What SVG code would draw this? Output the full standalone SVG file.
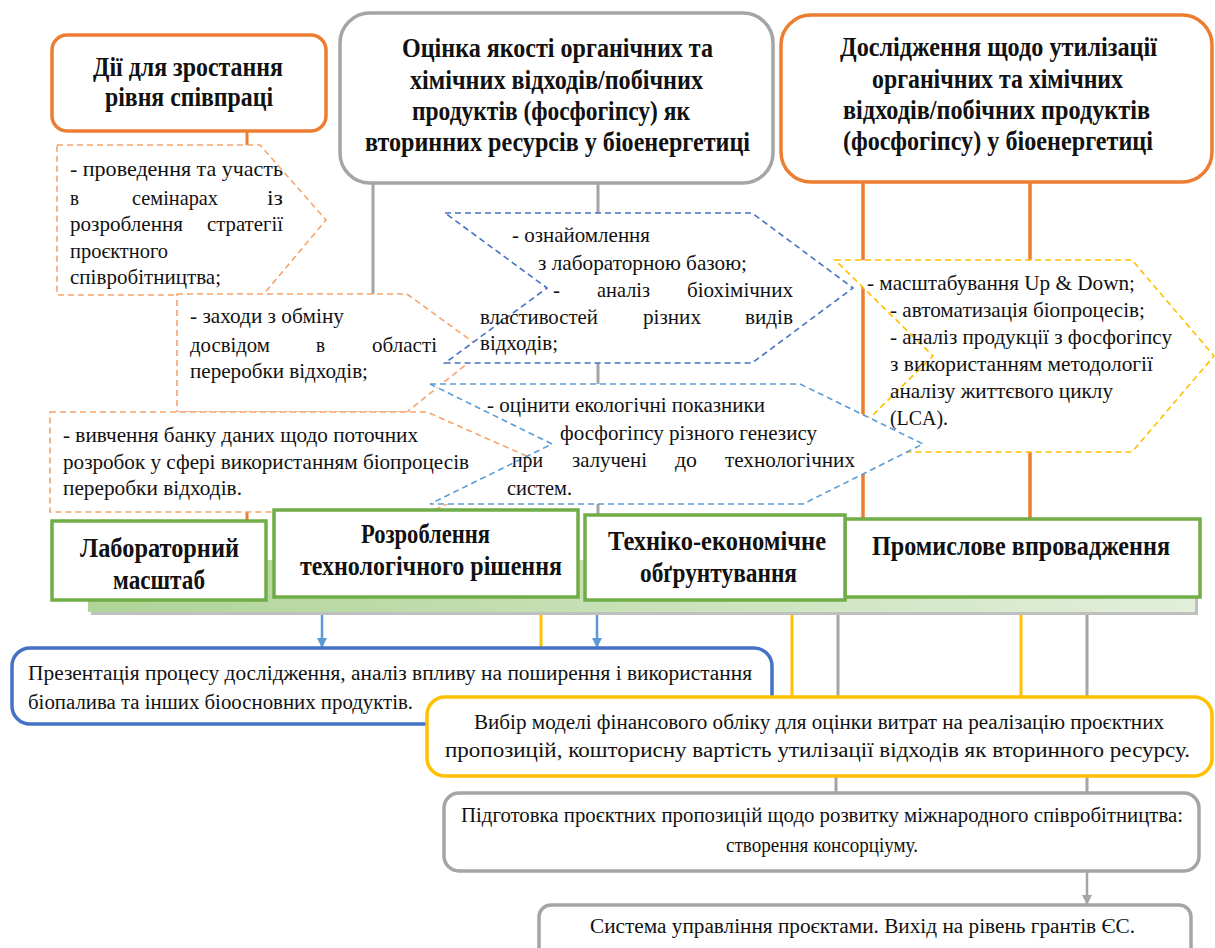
<svg xmlns="http://www.w3.org/2000/svg" width="1215" height="948" viewBox="0 0 1215 948" font-family="'Liberation Serif', 'Times New Roman', serif">
<defs>
<style>
.t{font-size:22px;fill:#111}
.s{font-size:20px;fill:#111}
.b{font-size:27px;font-weight:bold;fill:#111}
.dash{fill:#fff;stroke-width:1.6;stroke-dasharray:6 4}
.green{fill:#fff;stroke:#70AD47;stroke-width:3.5}
</style>
<linearGradient id="gbar" x1="0" y1="0" x2="1" y2="0">
<stop offset="0" stop-color="#AFD497"/>
<stop offset="1" stop-color="#E2EFDA"/>
</linearGradient>
<marker id="arrB" viewBox="0 0 10 10" refX="9" refY="5" markerWidth="4" markerHeight="4" orient="auto"><path d="M0,0 L10,5 L0,10 z" fill="#5B9BD5"/></marker>
<marker id="arrG" viewBox="0 0 10 10" refX="9" refY="5" markerWidth="4" markerHeight="4" orient="auto"><path d="M0,0 L10,5 L0,10 z" fill="#A5A5A5"/></marker>
</defs>

<g id="connectors" fill="none">
<line x1="247" y1="131" x2="247" y2="521" stroke="#ED7D31" stroke-width="3"/>
<line x1="373" y1="183" x2="373" y2="300" stroke="#A5A5A5" stroke-width="3"/>
<line x1="598" y1="183" x2="598" y2="515" stroke="#A5A5A5" stroke-width="3"/>
<line x1="863" y1="182" x2="863" y2="522" stroke="#ED7D31" stroke-width="3.5"/>
<line x1="1030" y1="182" x2="1030" y2="522" stroke="#ED7D31" stroke-width="3.5"/>
<line x1="322" y1="612" x2="322" y2="647" stroke="#5B9BD5" stroke-width="2.5" marker-end="url(#arrB)"/>
<line x1="541" y1="612" x2="541" y2="697" stroke="#FFC000" stroke-width="3"/>
<line x1="597" y1="612" x2="597" y2="647" stroke="#5B9BD5" stroke-width="2.5" marker-end="url(#arrB)"/>
<line x1="792" y1="600" x2="792" y2="697" stroke="#FFC000" stroke-width="3"/>
<line x1="838" y1="612" x2="838" y2="697" stroke="#A5A5A5" stroke-width="3"/>
<line x1="1021" y1="612" x2="1021" y2="697" stroke="#FFC000" stroke-width="3"/>
<line x1="1087" y1="615" x2="1087" y2="697" stroke="#A5A5A5" stroke-width="3"/>
<line x1="836" y1="776" x2="836" y2="793" stroke="#A5A5A5" stroke-width="3"/>
<line x1="1087" y1="776" x2="1087" y2="793" stroke="#A5A5A5" stroke-width="3"/>
<line x1="1087" y1="871" x2="1087" y2="904" stroke="#A5A5A5" stroke-width="2.5" marker-end="url(#arrG)"/>
</g>

<g id="n-coop">
<rect x="52" y="35" width="274" height="96" rx="15" fill="#fff" stroke="#ED7D31" stroke-width="3.5"/>
<text class="b" x="93" y="76" textLength="190" lengthAdjust="spacingAndGlyphs">Дії для зростання</text>
<text class="b" x="105" y="106" textLength="168" lengthAdjust="spacingAndGlyphs">рівня співпраці</text>
</g>

<g id="n-quality">
<rect x="340" y="13" width="433" height="170" rx="30" fill="#fff" stroke="#A5A5A5" stroke-width="3.5"/>
<text class="b" x="402" y="57" textLength="311" lengthAdjust="spacingAndGlyphs">Оцінка якості органічних та</text>
<text class="b" x="410" y="89" textLength="293" lengthAdjust="spacingAndGlyphs">хімічних відходів/побічних</text>
<text class="b" x="412" y="120" textLength="278" lengthAdjust="spacingAndGlyphs">продуктів (фосфогіпсу) як</text>
<text class="b" x="365" y="151" textLength="385" lengthAdjust="spacingAndGlyphs">вторинних ресурсів у біоенергетиці</text>
</g>

<g id="n-research">
<rect x="781" y="15" width="431" height="167" rx="30" fill="#fff" stroke="#ED7D31" stroke-width="3.5"/>
<text class="b" x="840" y="56" textLength="317" lengthAdjust="spacingAndGlyphs">Дослідження щодо утилізації</text>
<text class="b" x="872" y="88" textLength="251" lengthAdjust="spacingAndGlyphs">органічних та хімічних</text>
<text class="b" x="843" y="119" textLength="307" lengthAdjust="spacingAndGlyphs">відходів/побічних продуктів</text>
<text class="b" x="843" y="150" textLength="310" lengthAdjust="spacingAndGlyphs">(фосфогіпсу) у біоенергетиці</text>
</g>

<g id="n-a">
<path class="dash" stroke="#F4A46E" d="M57,145 L260,145 L326,220 L263,295 L57,295 Z"/>
<text class="t" x="70" y="176" textLength="213" lengthAdjust="spacingAndGlyphs">- проведення та участь</text>
<text class="t" x="70" y="205" textLength="9" lengthAdjust="spacingAndGlyphs">в</text>
<text class="t" x="132" y="205" textLength="86" lengthAdjust="spacingAndGlyphs">семінарах</text>
<text class="t" x="267" y="205" textLength="16" lengthAdjust="spacingAndGlyphs">із</text>
<text class="t" x="70" y="231" textLength="113" lengthAdjust="spacingAndGlyphs">розроблення</text>
<text class="t" x="207" y="231" textLength="76" lengthAdjust="spacingAndGlyphs">стратегії</text>
<text class="t" x="70" y="258" textLength="98" lengthAdjust="spacingAndGlyphs">проєктного</text>
<text class="t" x="70" y="284" textLength="151" lengthAdjust="spacingAndGlyphs">співробітництва;</text>
</g>

<g id="n-b">
<path class="dash" stroke="#F4A46E" d="M177,294 L407,294 L484,350 L407,412 L177,412 Z"/>
<text class="t" x="190" y="323" textLength="154" lengthAdjust="spacingAndGlyphs">- заходи з обміну</text>
<text class="t" x="190" y="352" textLength="80" lengthAdjust="spacingAndGlyphs">досвідом</text>
<text class="t" x="316" y="352" textLength="9" lengthAdjust="spacingAndGlyphs">в</text>
<text class="t" x="372" y="352" textLength="65" lengthAdjust="spacingAndGlyphs">області</text>
<text class="t" x="190" y="378" textLength="178" lengthAdjust="spacingAndGlyphs">переробки відходів;</text>
</g>

<g id="n-c">
<path class="dash" stroke="#F4A46E" d="M50,412 L427,412 L540,462 L430,512 L50,512 Z"/>
<text class="t" x="63" y="442" textLength="355" lengthAdjust="spacingAndGlyphs">- вивчення банку даних щодо поточних</text>
<text class="t" x="63" y="469" textLength="406" lengthAdjust="spacingAndGlyphs">розробок у сфері використанням біопроцесів</text>
<text class="t" x="63" y="495" textLength="179" lengthAdjust="spacingAndGlyphs">переробки відходів.</text>
</g>

<g id="n-d">
<path class="dash" stroke="#4472C4" d="M445,213 L752,213 L853,288 L752,363 L445,363 L547,288 Z"/>
<text class="t" x="512" y="242" textLength="138" lengthAdjust="spacingAndGlyphs">- ознайомлення</text>
<text class="t" x="538" y="270" textLength="209" lengthAdjust="spacingAndGlyphs">з лабораторною базою;</text>
<text class="t" x="553" y="297" textLength="7" lengthAdjust="spacingAndGlyphs">-</text>
<text class="t" x="597" y="297" textLength="53" lengthAdjust="spacingAndGlyphs">аналіз</text>
<text class="t" x="687" y="297" textLength="106" lengthAdjust="spacingAndGlyphs">біохімічних</text>
<text class="t" x="480" y="324" textLength="118" lengthAdjust="spacingAndGlyphs">властивостей</text>
<text class="t" x="643" y="324" textLength="58" lengthAdjust="spacingAndGlyphs">різних</text>
<text class="t" x="745" y="324" textLength="48" lengthAdjust="spacingAndGlyphs">видів</text>
<text class="t" x="480" y="350" textLength="78" lengthAdjust="spacingAndGlyphs">відходів;</text>
</g>

<g id="n-f">
<path class="dash" stroke="#FFC000" d="M835,260 L1132,260 L1214,356 L1132,452 L835,452 L933,356 Z"/>
<text class="t" x="867" y="290" textLength="268" lengthAdjust="spacingAndGlyphs">- масштабування Up &amp; Down;</text>
<text class="t" x="890" y="317" textLength="255" lengthAdjust="spacingAndGlyphs">- автоматизація біопроцесів;</text>
<text class="t" x="890" y="344" textLength="282" lengthAdjust="spacingAndGlyphs">- аналіз продукції з фосфогіпсу</text>
<text class="t" x="890" y="371" textLength="263" lengthAdjust="spacingAndGlyphs">з використанням методології</text>
<text class="t" x="890" y="398" textLength="223" lengthAdjust="spacingAndGlyphs">аналізу життєвого циклу</text>
<text class="t" x="890" y="425" textLength="58" lengthAdjust="spacingAndGlyphs">(LCA).</text>
</g>

<g id="n-e">
<path class="dash" stroke="#5B9BD5" d="M430,384 L800,384 L923,444 L803,504 L430,504 L552,444 Z"/>
<text class="t" x="487" y="412" textLength="278" lengthAdjust="spacingAndGlyphs">- оцінити екологічні показники</text>
<text class="t" x="560" y="440" textLength="257" lengthAdjust="spacingAndGlyphs">фосфогіпсу різного генезису</text>
<text class="t" x="512" y="467" textLength="31" lengthAdjust="spacingAndGlyphs">при</text>
<text class="t" x="572" y="467" textLength="75" lengthAdjust="spacingAndGlyphs">залучені</text>
<text class="t" x="675" y="467" textLength="22" lengthAdjust="spacingAndGlyphs">до</text>
<text class="t" x="725" y="467" textLength="130" lengthAdjust="spacingAndGlyphs">технологічних</text>
<text class="t" x="507" y="495" textLength="65" lengthAdjust="spacingAndGlyphs">систем.</text>
</g>

<g id="stage-bar">
<rect x="91" y="563" width="1107" height="52" fill="#BFBFBF"/>
<rect x="88" y="560" width="1107" height="52" fill="url(#gbar)"/>
</g>

<g id="n-lab">
<rect class="green" x="52" y="521" width="214" height="79"/>
<text class="b" x="80" y="557" textLength="159" lengthAdjust="spacingAndGlyphs">Лабораторний</text>
<text class="b" x="113" y="589" textLength="92" lengthAdjust="spacingAndGlyphs">масштаб</text>
</g>
<g id="n-tech">
<rect class="green" x="274" y="510" width="304" height="87"/>
<text class="b" x="361" y="543" textLength="129" lengthAdjust="spacingAndGlyphs">Розроблення</text>
<text class="b" x="300" y="575" textLength="262" lengthAdjust="spacingAndGlyphs">технологічного рішення</text>
</g>
<g id="n-ind">
<rect class="green" x="845" y="519" width="355" height="78"/>
<text class="b" x="872" y="555" textLength="298" lengthAdjust="spacingAndGlyphs">Промислове впровадження</text>
</g>
<g id="n-econ">
<rect class="green" x="585" y="515" width="260" height="85"/>
<text class="b" x="608" y="550" textLength="218" lengthAdjust="spacingAndGlyphs">Техніко-економічне</text>
<text class="b" x="640" y="582" textLength="157" lengthAdjust="spacingAndGlyphs">обґрунтування</text>
</g>

<g id="n-present">
<rect x="12" y="648" width="760" height="76" rx="18" fill="#fff" stroke="#4472C4" stroke-width="3.5"/>
<text class="s" x="28" y="680" textLength="724" lengthAdjust="spacingAndGlyphs">Презентація процесу дослідження, аналіз впливу на поширення і використання</text>
<text class="s" x="28" y="709" textLength="385" lengthAdjust="spacingAndGlyphs">біопалива та інших біоосновних продуктів.</text>
</g>

<g id="n-finance">
<rect x="427" y="697" width="785" height="79" rx="18" fill="#fff" stroke="#FFC000" stroke-width="3.5"/>
<text class="s" x="474" y="729" textLength="690" lengthAdjust="spacingAndGlyphs">Вибір моделі фінансового обліку для оцінки витрат на реалізацію проєктних</text>
<text class="s" x="445" y="757" textLength="745" lengthAdjust="spacingAndGlyphs">пропозицій, кошторисну вартість утилізації відходів як вторинного ресурсу.</text>
</g>

<g id="n-proposals">
<rect x="444" y="793" width="755" height="78" rx="15" fill="#fff" stroke="#A5A5A5" stroke-width="3.5"/>
<text class="s" x="461" y="822" textLength="722" lengthAdjust="spacingAndGlyphs">Підготовка проєктних пропозицій щодо розвитку міжнародного співробітництва:</text>
<text class="s" x="726" y="852" textLength="192" lengthAdjust="spacingAndGlyphs">створення консорціуму.</text>
</g>

<g id="n-system">
<rect x="539" y="905" width="652" height="60" rx="12" fill="#fff" stroke="#A5A5A5" stroke-width="3.5"/>
<text class="s" x="590" y="933" textLength="545" lengthAdjust="spacingAndGlyphs">Система управління проєктами. Вихід на рівень грантів ЄС.</text>
</g>
</svg>
